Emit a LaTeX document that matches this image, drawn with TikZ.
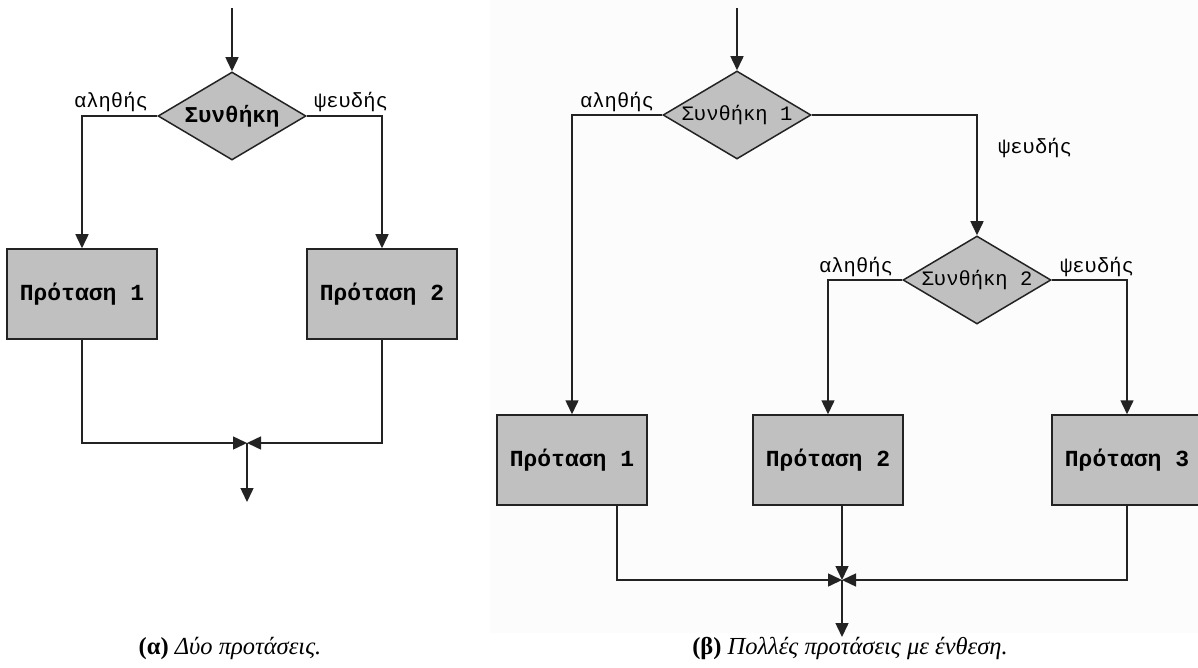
\documentclass[tikz,border=0pt]{standalone}
\usepackage{fontspec}
\setmainfont{Liberation Serif}
\setmonofont{Liberation Mono}
\usepackage{tikz}
\usetikzlibrary{arrows.meta}
\usetikzlibrary{shapes.geometric, positioning, calc}
\usepackage{xcolor}
\definecolor{boxgray}{RGB}{192,192,192}
\definecolor{linegray}{RGB}{35,35,35}

\begin{document}
\begin{tikzpicture}[x=1pt, y=-1pt, line width=1.5pt, draw=linegray,
    flow/.style={-{Triangle[length=14pt, width=13pt]}},
    cond/.style={diamond, draw=linegray, fill=boxgray, inner sep=0pt, aspect=1.7,
      minimum width=148pt, minimum height=88pt, font=\ttfamily\fontsize{20.5}{24}\selectfont},
    stmt/.style={rectangle, draw=linegray, fill=boxgray, minimum width=150pt,
      minimum height=90pt, font=\ttfamily\bfseries\fontsize{23}{26}\selectfont},
    lbl/.style={inner sep=0pt, font=\ttfamily\fontsize{20.5}{24}\selectfont},
    caption/.style={inner sep=0pt, font=\fontsize{24.5}{28}\selectfont}]
      \useasboundingbox (0,0) rectangle (1198,668);
      \fill[black!1] (490,0) rectangle (1198,633);

      % (a) two statements
      \coordinate (inA) at (232,8);
      \node[cond, font=\ttfamily\bfseries\fontsize{22.6}{26}\selectfont] (condA) at (232,116) {Συνθήκη};
      \node[stmt] (stmtA1) at (82,294) {Πρόταση 1};
      \node[stmt] (stmtA2) at (382,294) {Πρόταση 2};
      \node[lbl] (trueA) at (111,102) {αληθής};
      \node[lbl] (falseA) at (351,102) {ψευδής};
      \coordinate (joinA) at (247,443);
      \coordinate (outA) at (247,502);

      \draw[flow] (inA) -- (condA);
      \draw[flow] (condA.west) -| (stmtA1);
      \draw[flow] (condA.east) -| (stmtA2);
      \draw[flow] (stmtA1) |- (joinA);
      \draw[flow] (stmtA2) |- (joinA);
      \draw[flow] (joinA) -- (outA);

      % (b) nested statements
      \coordinate (inB) at (737,8);
      \node[cond] (condB1) at (737,115) {Συνθήκη 1};
      \node[cond] (condB2) at (977,280) {Συνθήκη 2};
      \node[stmt] (stmtB1) at (572,460) {Πρόταση 1};
      \node[stmt] (stmtB2) at (828,460) {Πρόταση 2};
      \node[stmt] (stmtB3) at (1127,460) {Πρόταση 3};
      \node[lbl] (trueB1) at (617,102) {αληθής};
      \node[lbl] (falseB1) at (1035,148) {ψευδής};
      \node[lbl] (trueB2) at (856,267) {αληθής};
      \node[lbl] (falseB2) at (1097,267) {ψευδής};
      \coordinate (joinB) at (842,580);
      \coordinate (outB) at (842,637);

      \draw[flow] (inB) -- (condB1);
      \draw[flow] (condB1.west) -| (stmtB1);
      \draw[flow] (condB1.east) -| (condB2);
      \draw[flow] (condB2.west) -| (stmtB2);
      \draw[flow] (condB2.east) -| (stmtB3);
      \draw[flow] ([xshift=45pt]stmtB1.south) |- (joinB);
      \draw[flow] (joinB |- stmtB2.south) -- (joinB);
      \draw[flow] (stmtB3) |- (joinB);
      \draw[flow] (joinB) -- (outB);

      \node[caption] (capA) at (230,648) {\textbf{(α)} \textit{Δύο προτάσεις.}};
      \node[caption] (capB) at (850,648) {\textbf{(β)} \textit{Πολλές προτάσεις με ένθεση.}};

    \end{tikzpicture}
\end{document}
